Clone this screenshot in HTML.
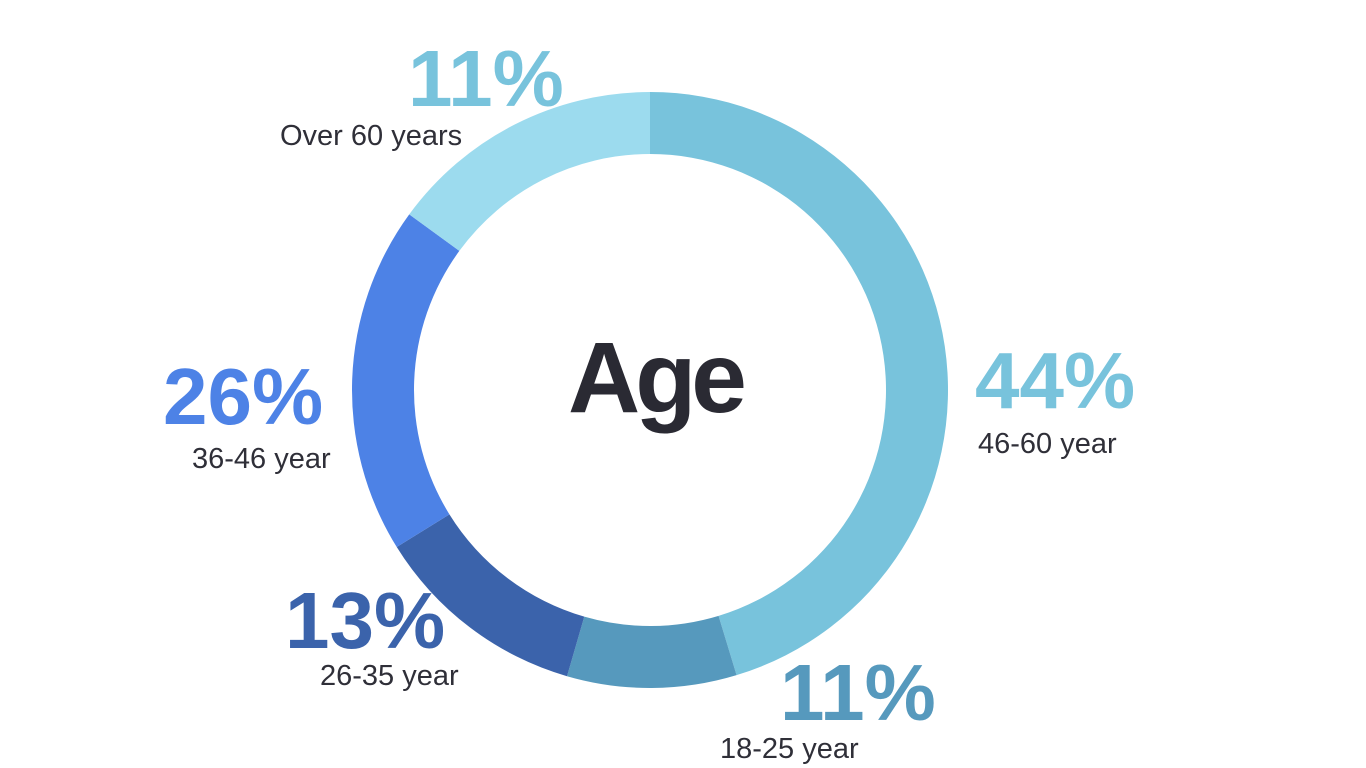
<!DOCTYPE html>
<html><head><meta charset="utf-8"><style>
html,body{margin:0;padding:0;background:#fff;width:1366px;height:768px;overflow:hidden}
svg{display:block}
.pct{font-family:"Liberation Sans",sans-serif;font-weight:bold;font-size:80px;letter-spacing:0px}
.lbl{font-family:"Liberation Sans",sans-serif;font-size:29px;fill:#2f2f38}
</style></head><body>
<svg id="chart" width="1366" height="768">
<g id="slices"></g>
<text x="568" y="412" font-family="Liberation Sans,sans-serif" font-weight="bold" font-size="100" fill="#2a2a33" letter-spacing="-5">Age</text>
<g id="labels"></g>
</svg>
<script>
const categories = ["46-60 year","18-25 year","26-35 year","36-46 year","Over 60 years"];
const shares = [45.4, 9.2, 11.7, 18.9, 15.0];
const pctLabels = ["44%","11%","13%","26%","11%"];
const colors = ["#78c3dc","#5699bd","#3b63ab","#4d82e6","#9cdbee"];
const pctColors = ["#78c3dc","#5699bd","#3b63ab","#4d82e6","#78c3dc"];
const cx=650, cy=390, rO=298, rI=236;
const ns="http://www.w3.org/2000/svg";
const total=shares.reduce((a,b)=>a+b,0);
function pt(a,r){return [cx+r*Math.sin(a), cy-r*Math.cos(a)];}
let a0=0;
const g=document.getElementById('slices');
shares.forEach((v,i)=>{
  const a1=a0+v/total*2*Math.PI;
  const large=(a1-a0)>Math.PI?1:0;
  const p1=pt(a0,rO),p2=pt(a1,rO),p3=pt(a1,rI),p4=pt(a0,rI);
  const p=document.createElementNS(ns,'path');
  p.setAttribute('d',`M${p1}A${rO},${rO} 0 ${large} 1 ${p2}L${p3}A${rI},${rI} 0 ${large} 0 ${p4}Z`);
  p.setAttribute('fill',colors[i]);
  
  
  g.appendChild(p);
  a0=a1;
});
const pctPos=[[975,408],[780,720],[285,648],[163,424],[408,106]];
const lblPos=[[978,453],[720,758],[320,685],[192,468],[280,145]];
const lg=document.getElementById('labels');
categories.forEach((c,i)=>{
  const t=document.createElementNS(ns,'text');
  t.setAttribute('x',pctPos[i][0]);t.setAttribute('y',pctPos[i][1]);
  t.setAttribute('class','pct');t.setAttribute('fill',pctColors[i]);
  t.textContent=pctLabels[i];
  
  
  lg.appendChild(t);
  const l=document.createElementNS(ns,'text');
  l.setAttribute('x',lblPos[i][0]);l.setAttribute('y',lblPos[i][1]);
  l.setAttribute('class','lbl');
  l.textContent=c;
  
  
  lg.appendChild(l);
});
</script>
</body></html>
